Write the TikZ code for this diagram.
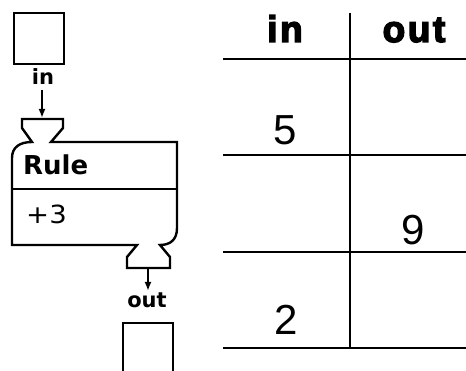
\documentclass[tikz,border=0pt]{standalone}
\usepackage{fontspec}
\usetikzlibrary{arrows.meta}
\newfontfamily\lblfont{DejaVu Sans}
\newfontfamily\numfont{Liberation Sans}
\newfontfamily\heavyfont{Liberation Sans}[BoldFeatures={FakeBold=4,LetterSpace=7}]
\tikzset{
  outline/.style={line width=2.4pt, line join=miter},
  rule/.style={line width=2pt},
  conn/.style={line width=1.8pt, -{Latex[length=9pt,width=7pt]}},
  smalllbl/.style={inner sep=0pt, anchor=base, font=\lblfont\bfseries\fontsize{21}{23}\selectfont},
  headlbl/.style={inner sep=0pt, anchor=base, font=\heavyfont\bfseries\fontsize{37}{40}\selectfont},
  numlbl/.style={inner sep=0pt, anchor=base, font=\numfont\fontsize{42}{44}\selectfont},
}
\begin{document}
\begin{tikzpicture}[x=1pt,y=-1pt]
\useasboundingbox (0,0) rectangle (466,371);
% input box
\node[draw, outline, minimum width=50pt, minimum height=51pt, inner sep=0pt] (inbox) at (39,38.5) {};
\node[smalllbl] (inlbl) at (43,85) {in};
\coordinate (inarrtop) at (42,90);
\coordinate (funnelin) at (42,118);
\draw[conn] (inarrtop) -- (funnelin);
% rule machine
\draw[outline] (22,119) -- (63,119) -- (63,128) -- (51,142) -- (177,142) -- (177,228)
  .. controls (177,240) and (170,245) .. (160,245) -- (170,257) -- (170,268)
  -- (127,268) -- (127,257) -- (137,245) -- (12,245) -- (12,158)
  .. controls (12,147) and (20,142) .. (32,142) -- (22,128) -- cycle;
\draw[outline] (12,189) -- (177,189);
\node[inner sep=0pt, anchor=base west, font=\lblfont\bfseries\fontsize{26}{28}\selectfont] (rulelbl) at (23,175) {Rule};
\node[inner sep=0pt, anchor=base west, font=\lblfont\fontsize{25}{27}\selectfont, xscale=1.1] (rulecontent) at (26,224) {+3};
% output
\coordinate (funnelout) at (148,268);
\coordinate (outarrbot) at (148,291);
\draw[conn] (funnelout) -- (outarrbot);
\node[smalllbl] (outlbl) at (147,308) {out};
\draw[outline] (123,372) -- (123,323) -- (173,323) -- (173,372);
% table
\coordinate (vtop) at (350,13);
\coordinate (vbot) at (350,349);
\draw[rule] (vtop) -- (vbot);
\foreach \yy in {59,155,252,348} {\draw[rule] (223,\yy) -- (466,\yy);}
\node[headlbl] (hin) at (285,42) {in};
\node[headlbl] (hout) at (414,42) {out};
\node[numlbl] (n5) at (285,145) {5};
\node[numlbl] (n9) at (413,245) {9};
\node[numlbl] (n2) at (286,335) {2};
\end{tikzpicture}
\end{document}
